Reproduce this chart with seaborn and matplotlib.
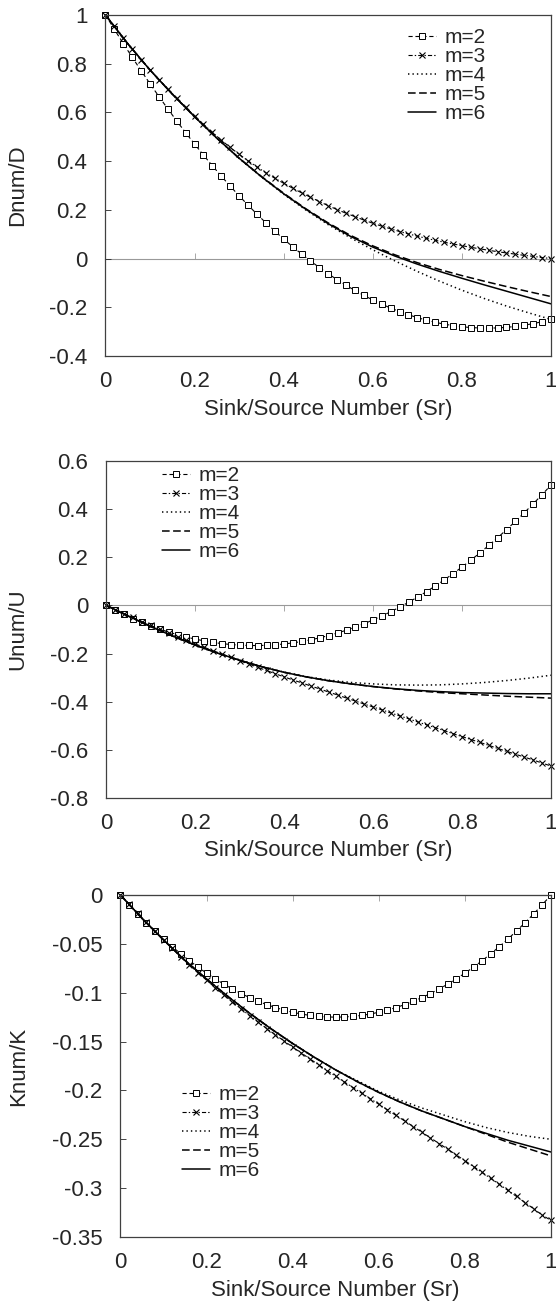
import matplotlib
matplotlib.use("Agg")
import matplotlib.pyplot as plt
import seaborn as sns
from matplotlib.ticker import FuncFormatter, MultipleLocator

# ---------------- data ----------------
sr_fine = [0.00, 0.02, 0.04, 0.06, 0.08, 0.10, 0.12, 0.14, 0.16, 0.18,
           0.20, 0.22, 0.24, 0.26, 0.28, 0.30, 0.32, 0.34, 0.36, 0.38,
           0.40, 0.42, 0.44, 0.46, 0.48, 0.50, 0.52, 0.54, 0.56, 0.58,
           0.60, 0.62, 0.64, 0.66, 0.68, 0.70, 0.72, 0.74, 0.76, 0.78,
           0.80, 0.82, 0.84, 0.86, 0.88, 0.90, 0.92, 0.94, 0.96, 0.98, 1.00]
sr_coarse = [0.00, 0.05, 0.10, 0.15, 0.20, 0.25, 0.30, 0.35, 0.40, 0.45, 0.50,
             0.55, 0.60, 0.65, 0.70, 0.75, 0.80, 0.85, 0.90, 0.95, 1.00]

# Panel 1: Dnum/D
d_m2 = [1.0, 0.9407, 0.8828, 0.8263, 0.7712, 0.7175, 0.6652, 0.6143, 0.5648, 0.5167,
        0.47, 0.4247, 0.3808, 0.3383, 0.2972, 0.2575, 0.2192, 0.1823, 0.1468, 0.1127,
        0.08, 0.0487, 0.0188, -0.0097, -0.0368, -0.0625, -0.0868, -0.1097, -0.1312, -0.1513,
        -0.17, -0.1873, -0.2032, -0.2177, -0.2308, -0.2425, -0.2528, -0.2617, -0.2692, -0.2753,
        -0.28, -0.2833, -0.2852, -0.2857, -0.2848, -0.2825, -0.2788, -0.2737, -0.2672, -0.2593, -0.25]
d_m3 = [1.0, 0.953, 0.906, 0.861, 0.817, 0.775, 0.735, 0.696, 0.658, 0.621,
        0.585, 0.551, 0.518, 0.486, 0.456, 0.428, 0.401, 0.376, 0.352, 0.330,
        0.309, 0.289, 0.270, 0.252, 0.234, 0.217, 0.201, 0.186, 0.172, 0.158,
        0.145, 0.133, 0.122, 0.111, 0.101, 0.092, 0.083, 0.075, 0.067, 0.060,
        0.053, 0.046, 0.040, 0.034, 0.028, 0.023, 0.018, 0.013, 0.009, 0.004, 0.0]
d_m4 = [1.0, 0.882, 0.774, 0.675, 0.582, 0.494, 0.411, 0.335, 0.264, 0.199, 0.139,
        0.085, 0.036, -0.010, -0.053, -0.093, -0.130, -0.164, -0.195, -0.223, -0.25]
d_m5 = [1.0, 0.882, 0.774, 0.675, 0.582, 0.494, 0.412, 0.337, 0.268, 0.204, 0.146,
        0.095, 0.052, 0.015, -0.017, -0.045, -0.070, -0.093, -0.115, -0.136, -0.156]
d_m6 = [1.0, 0.882, 0.774, 0.675, 0.582, 0.494, 0.412, 0.336, 0.266, 0.202, 0.143,
        0.091, 0.047, 0.010, -0.023, -0.053, -0.081, -0.108, -0.134, -0.160, -0.186]

# Panel 2: Unum/U
u_m2 = [0.0, -0.0194, -0.0376, -0.0546, -0.0704, -0.085, -0.0984, -0.1106, -0.1216, -0.1314,
        -0.14, -0.1474, -0.1536, -0.1586, -0.1624, -0.165, -0.1664, -0.1666, -0.1656, -0.1634,
        -0.16, -0.1554, -0.1496, -0.1426, -0.1344, -0.125, -0.1144, -0.1026, -0.0896, -0.0754,
        -0.06, -0.0434, -0.0256, -0.0066, 0.0136, 0.035, 0.0576, 0.0814, 0.1064, 0.1326,
        0.16, 0.1886, 0.2184, 0.2494, 0.2816, 0.315, 0.3496, 0.3854, 0.4224, 0.4606, 0.5]
u_m3 = [0.0, -0.017, -0.034, -0.050, -0.067, -0.083, -0.099, -0.114, -0.130, -0.145,
        -0.160, -0.174, -0.188, -0.202, -0.216, -0.230, -0.243, -0.257, -0.270, -0.284,
        -0.297, -0.310, -0.322, -0.335, -0.347, -0.360, -0.372, -0.385, -0.397, -0.410,
        -0.422, -0.434, -0.447, -0.459, -0.471, -0.484, -0.496, -0.508, -0.520, -0.533,
        -0.545, -0.557, -0.569, -0.581, -0.594, -0.606, -0.618, -0.630, -0.642, -0.655, -0.667]
u_m4 = [0.0, -0.045, -0.088, -0.128, -0.165, -0.198, -0.228, -0.255, -0.277, -0.296, -0.310,
        -0.320, -0.326, -0.330, -0.331, -0.330, -0.326, -0.320, -0.312, -0.302, -0.290]
u_m5 = [0.0, -0.045, -0.088, -0.128, -0.165, -0.198, -0.228, -0.255, -0.278, -0.297, -0.313,
        -0.326, -0.337, -0.347, -0.355, -0.362, -0.367, -0.372, -0.377, -0.381, -0.385]
u_m6 = [0.0, -0.045, -0.088, -0.128, -0.165, -0.198, -0.228, -0.255, -0.278, -0.297, -0.313,
        -0.326, -0.337, -0.346, -0.353, -0.358, -0.362, -0.364, -0.366, -0.367, -0.367]

# Panel 3: Knum/K
k_m2 = [0.0, -0.0098, -0.0192, -0.0282, -0.0368, -0.045, -0.0528, -0.0602, -0.0672, -0.0738,
        -0.08, -0.0858, -0.0912, -0.0962, -0.1008, -0.105, -0.1088, -0.1122, -0.1152, -0.1178,
        -0.12, -0.1218, -0.1232, -0.1242, -0.1248, -0.125, -0.1248, -0.1242, -0.1232, -0.1218,
        -0.12, -0.1178, -0.1152, -0.1122, -0.1088, -0.105, -0.1008, -0.0962, -0.0912, -0.0858,
        -0.08, -0.0738, -0.0672, -0.0602, -0.0528, -0.045, -0.0368, -0.0282, -0.0192, -0.0098, 0.0]
k_m3 = [0.0, -0.0095, -0.0188, -0.0280, -0.0371, -0.0460, -0.0547, -0.0632, -0.0714, -0.0794,
        -0.0872, -0.0948, -0.1022, -0.1094, -0.1165, -0.1234, -0.1301, -0.1367, -0.1431, -0.1494,
        -0.1556, -0.1617, -0.1677, -0.1737, -0.1796, -0.1855, -0.1913, -0.1970, -0.2027, -0.2084,
        -0.2141, -0.2198, -0.2255, -0.2312, -0.2369, -0.2427, -0.2485, -0.2543, -0.2601, -0.2660,
        -0.2719, -0.2779, -0.2839, -0.2900, -0.2961, -0.3023, -0.3085, -0.3148, -0.3212, -0.3277, -0.333]
k_m4 = [0.0, -0.024, -0.046, -0.067, -0.086, -0.104, -0.121, -0.137, -0.152, -0.166, -0.179,
        -0.190, -0.201, -0.210, -0.218, -0.225, -0.232, -0.238, -0.243, -0.247, -0.250]
k_m5 = [0.0, -0.024, -0.046, -0.067, -0.086, -0.104, -0.121, -0.137, -0.152, -0.166, -0.179,
        -0.191, -0.202, -0.212, -0.221, -0.229, -0.237, -0.245, -0.253, -0.260, -0.267]
k_m6 = [0.0, -0.024, -0.046, -0.067, -0.086, -0.104, -0.121, -0.137, -0.152, -0.166, -0.179,
        -0.191, -0.202, -0.212, -0.221, -0.229, -0.237, -0.244, -0.251, -0.257, -0.263]

labels = ["m=2", "m=3", "m=4", "m=5", "m=6"]
x_ticks = [0, 0.2, 0.4, 0.6, 0.8, 1.0]
x_title = "Sink/Source Number (Sr)"

# ---------------- style ----------------
sns.set_style("ticks")
plt.rcParams["font.family"] = ["Liberation Sans", "DejaVu Sans"]
plt.rcParams["font.size"] = 16
plt.rcParams["axes.unicode_minus"] = False
plt.rcParams["lines.scale_dashes"] = False

fig = plt.figure(figsize=(5.56, 13.02), dpi=100)
ax1 = fig.add_axes([0.1897, 0.7266, 0.8013, 0.2619])
ax2 = fig.add_axes([0.1915, 0.3871, 0.7995, 0.2588])
ax3 = fig.add_axes([0.2167, 0.0499, 0.7743, 0.2627])

fmt = FuncFormatter(lambda v, _: "%g" % (round(v, 6) + 0.0))


def draw(ax, y2, y3, y4, y5, y6):
    common = dict(ax=ax, color="k", errorbar=None, legend=False, clip_on=False)
    sns.lineplot(x=sr_fine, y=y2, lw=0.8, linestyle=(0, (3, 2)), marker="s",
                 ms=4.2, mfc="white", mec="k", mew=0.7, label=labels[0], **common)
    sns.lineplot(x=sr_fine, y=y3, lw=0.8, linestyle=(0, (3, 1.5, 1, 1.5)), marker="x",
                 ms=4.6, mec="k", mew=0.8, label=labels[1], **common)
    sns.lineplot(x=sr_coarse, y=y4, lw=1.1, linestyle=(0, (1.0, 2.2)), label=labels[2], **common)
    sns.lineplot(x=sr_coarse, y=y5, lw=1.1, linestyle=(0, (5.5, 2.5)), label=labels[3], **common)
    sns.lineplot(x=sr_coarse, y=y6, lw=1.1, linestyle="-", label=labels[4], **common)


def style(ax, ylim, ystep, ylabel, ylab_x, leg_anchor):
    ax.set_xlim(0, 1)
    ax.set_ylim(*ylim)
    ax.set_xticks(x_ticks)
    ax.xaxis.set_major_formatter(fmt)
    ax.yaxis.set_major_locator(MultipleLocator(ystep))
    ax.yaxis.set_major_formatter(fmt)
    ax.tick_params(axis="x", length=0, pad=11)
    ax.tick_params(axis="y", direction="in", length=4, width=0.6, pad=13)
    for s in ax.spines.values():
        s.set_color("#404040")
        s.set_linewidth(0.9)
    ax.set_xlabel(x_title)
    ax.set_ylabel(ylabel)
    ax.xaxis.set_label_coords(0.5, -0.125)
    ax.yaxis.set_label_coords(ylab_x, 0.5)
    # Excel-style category axis crossing at zero
    loc = (0 - ylim[0]) / (ylim[1] - ylim[0])
    sec = ax.secondary_xaxis(loc)
    sec.set_xticks(x_ticks)
    sec.tick_params(axis="x", direction="in", length=4, width=0.6, colors="#999999",
                    labelbottom=False, labeltop=False)
    for s in sec.spines.values():
        s.set_color("#999999")
        s.set_linewidth(0.8)
    ax.legend(loc="upper left", bbox_to_anchor=leg_anchor, frameon=False,
              borderaxespad=0, borderpad=0, handlelength=1.35, handletextpad=0.4,
              labelspacing=0.0, numpoints=1, fontsize=15)


draw(ax1, d_m2, d_m3, d_m4, d_m5, d_m6)
style(ax1, (-0.4, 1.0), 0.2, "Dnum/D", -0.174, (0.679, 0.962))

draw(ax2, u_m2, u_m3, u_m4, u_m5, u_m6)
style(ax2, (-0.8, 0.6), 0.2, "Unum/U", -0.177, (0.125, 0.985))

draw(ax3, k_m2, k_m3, k_m4, k_m5, k_m6)
style(ax3, (-0.35, 0.0), 0.05, "Knum/K", -0.2125, (0.143, 0.444))

fig.savefig("out.png", dpi=100)
